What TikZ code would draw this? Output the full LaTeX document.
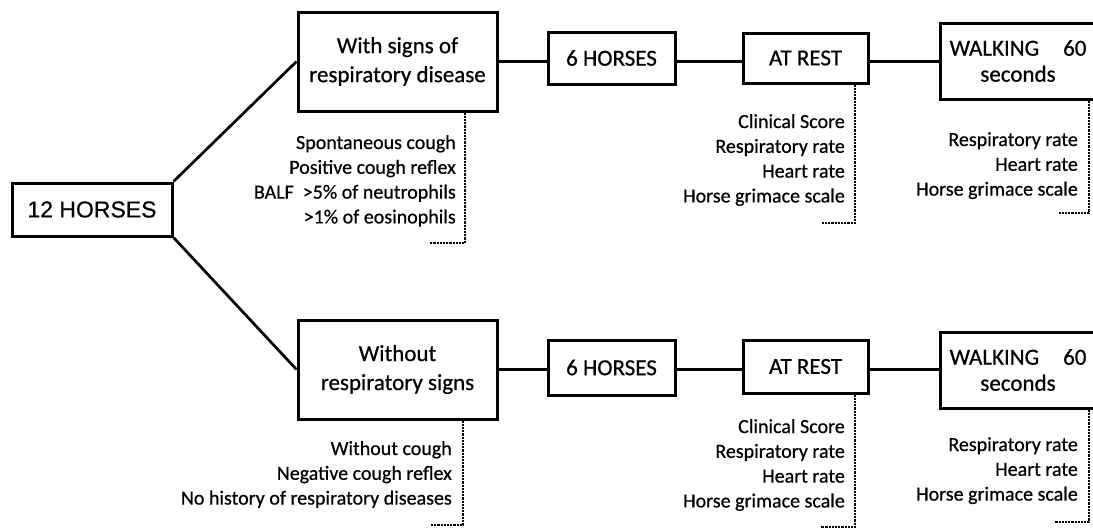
\documentclass[tikz,border=0pt]{standalone}
\usepackage{fontspec}
\setmainfont{Carlito}[FakeBold=0.6]
\newfontfamily\arialf{Liberation Sans}[FakeBold=0.6]
\newcommand\rlist[1]{\vtop{\halign{\hfil##\cr#1\crcr}}}
\begin{document}
\begin{tikzpicture}[x=1pt,y=-1pt,
  box/.style={draw, line width=3pt, inner sep=0pt, align=center, font=\fontsize{23}{29}\selectfont},
  conn/.style={line width=2.7pt},
  dotline/.style={line width=2.8pt, dash pattern=on 2.2pt off 1pt},
  lst/.style={inner sep=0pt, anchor=base east, font=\fontsize{20}{24.8}\selectfont}]
\useasboundingbox (0,0) rectangle (1093,528);

% boxes
\node[box, minimum width=160pt, minimum height=53pt, font=\arialf\fontsize{23}{28}\selectfont] (h12) at (92,209.5) {12 HORSES};
\node[box, minimum width=199pt, minimum height=99pt] (ws) at (397.5,61.5) {With signs of\\respiratory disease};
\node[box, minimum width=199pt, minimum height=99pt] (wo) at (397.5,369.5) {Without\\respiratory signs};
\node[box, minimum width=127pt, minimum height=52pt] (h6a) at (611.5,58) {6 HORSES};
\node[box, minimum width=127pt, minimum height=55pt] (h6b) at (611.5,367.5) {6 HORSES};
\node[box, minimum width=125pt, minimum height=50pt] (ra) at (805.5,58) {AT REST};
\node[box, minimum width=125pt, minimum height=53pt] (rb) at (805.5,366.5) {AT REST};
\node[box, minimum width=156pt, minimum height=76pt, font=\fontsize{23}{26}\selectfont] (wa) at (1018,61) {WALKING\hspace{24pt}60\\seconds};
\node[box, minimum width=156pt, minimum height=76pt, font=\fontsize{23}{26}\selectfont] (wb) at (1018,370) {WALKING\hspace{24pt}60\\seconds};

% connectors
\draw[conn] (h12.north east) -- (ws.west);
\draw[conn] (h12.south east) -- (wo.west);
\draw[conn] (ws.east) -- (ws.east -| h6a.west);
\draw[conn] (ws.east -| h6a.east) -- (ws.east -| ra.west);
\draw[conn] (ws.east -| ra.east) -- (ws.east -| wa.west);
\draw[conn] (wo.east) -- (wo.east -| h6b.west);
\draw[conn] (wo.east -| h6b.east) -- (wo.east -| rb.west);
\draw[conn] (wo.east -| rb.east) -- (wo.east -| wb.west);

% lists
\node[lst] (la) at (456,149) {\rlist{Spontaneous cough\cr Positive cough reflex\cr BALF\ \ >5\% of neutrophils\cr >1\% of eosinophils}};
\node[lst] (lb) at (452,455) {\rlist{Without cough\cr Negative cough reflex\cr No history of respiratory diseases}};
\node[lst] (lra) at (845,128) {\rlist{Clinical Score\cr Respiratory rate\cr Heart rate\cr Horse grimace scale}};
\node[lst] (lrb) at (845,433) {\rlist{Clinical Score\cr Respiratory rate\cr Heart rate\cr Horse grimace scale}};
\node[lst] (lwa) at (1078,146) {\rlist{Respiratory rate\cr Heart rate\cr Horse grimace scale}};
\node[lst] (lwb) at (1078,451) {\rlist{Respiratory rate\cr Heart rate\cr Horse grimace scale}};

% dotted brackets
\coordinate (da) at (465,243);
\coordinate (db) at (463,525);
\coordinate (dra) at (855,223);
\coordinate (drb) at (855,527);
\coordinate (dwa) at (1089,213);
\coordinate (dwb) at (1089,522);
\draw[dotline] (ws.south -| da) -- (da) -- ++(-35,0);
\draw[dotline] (wo.south -| db) -- (db) -- ++(-33,0);
\draw[dotline] (ra.south -| dra) -- (dra) -- ++(-34,0);
\draw[dotline] (rb.south -| drb) -- (drb) -- ++(-34,0);
\draw[dotline] (wa.south -| dwa) -- (dwa) -- ++(-30,0);
\draw[dotline] (wb.south -| dwb) -- (dwb) -- ++(-34,0);
\end{tikzpicture}
\end{document}
